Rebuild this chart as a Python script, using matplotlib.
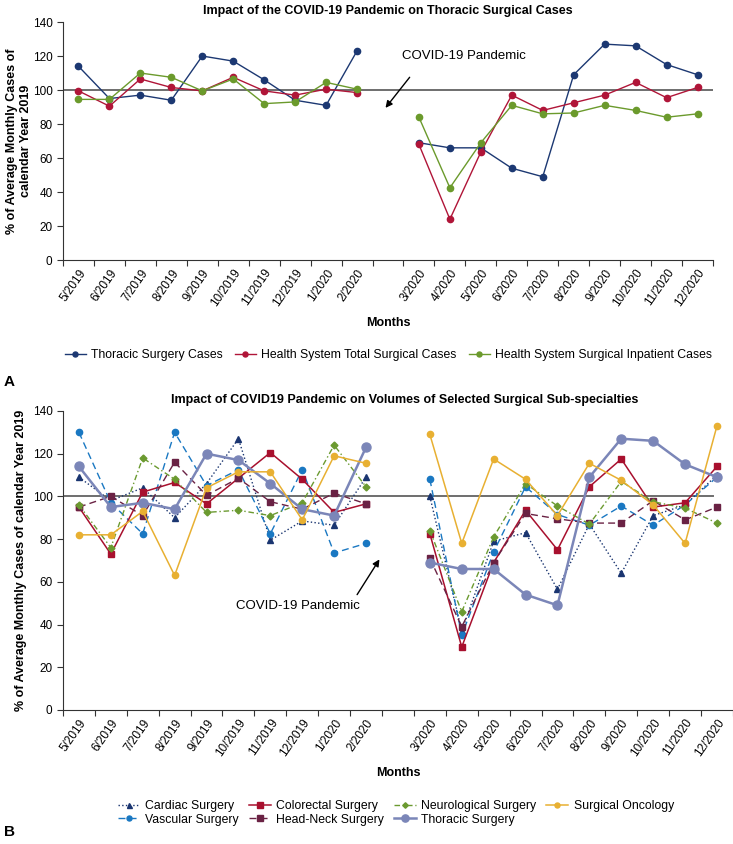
import numpy as np
import matplotlib
matplotlib.use('Agg')
import matplotlib.pyplot as plt

plt.rcParams['font.family'] = ['Liberation Sans Narrow', 'Liberation Sans', 'DejaVu Sans']

months = ['5/2019', '6/2019', '7/2019', '8/2019', '9/2019', '10/2019', '11/2019', '12/2019', '1/2020', '2/2020',
          '3/2020', '4/2020', '5/2020', '6/2020', '7/2020', '8/2020', '9/2020', '10/2020', '11/2020', '12/2020']

# panel A
thoracic_cases = [114, 95, 97, 94, 120, 117, 106, 94, 91, 123,
                  69, 66, 66, 54, 49, 109, 127, 126, 115, 109]
health_total = [99.5, 90.5, 106.5, 101.5, 99.5, 107.5, 99.5, 97, 100.5, 98.5,
                68, 24, 63.5, 97, 88, 92.5, 97, 104.5, 95.5, 101.5]
health_inpatient = [94.5, 94.5, 110, 107.5, 99.5, 106.5, 92, 93, 104.5, 100.5,
                    84, 42.5, 69, 91, 86, 86.5, 91, 88, 84, 86]

# panel B
cardiac = [109, 98, 104, 90, 106, 127, 79.5, 88.5, 86.5, 109,
           100, 37, 79, 83, 56.5, 87, 64, 91, 96, 110]
colorectal = [95, 73, 102, 106.5, 96.5, 108.5, 120.5, 108, 92.5, 96.5,
              82.5, 29.5, 69, 93.5, 75, 104.5, 117.5, 95, 97, 114]
neuro = [96, 76, 118, 108, 92.5, 93.5, 91, 97, 124, 104.5,
         84, 46, 81, 106, 95.5, 87, 107, 97.5, 94.5, 87.5]
oncology = [82, 82, 93, 63, 104, 111.5, 111.5, 89, 119, 115.5,
            129, 78, 117.5, 108, 91, 115.5, 107.5, 96, 78, 133]
vascular = [130, 97, 82.5, 130, 105, 112.5, 82.5, 112.5, 73.5, 78,
            108, 35, 74, 104.5, 91.5, 86.5, 95.5, 86.5, 96, 109]
head_neck = [95, 100, 91, 116, 100.5, 108.5, 97.5, 94, 101.5, 96.5,
             71, 39, 69, 92, 89.5, 87.5, 87.5, 98, 89, 95]
thoracic = thoracic_cases

GAP = 10  # empty slot between 2/2020 and 3/2020


def with_gap(vals):
    return np.insert(np.array(vals, dtype=float), GAP, np.nan)


x = np.arange(len(months) + 1)
labels = months[:GAP] + [''] + months[GAP:]


def style_axis(ax, title, ylabel, title_x, line_end):
    for s in ['top', 'right']:
        ax.spines[s].set_visible(False)
    ax.spines['left'].set_color('#333333')
    ax.spines['bottom'].set_color('#333333')
    ax.set_xlim(-0.5, len(x) - 0.5)
    ax.set_ylim(0, 140)
    ax.set_yticks(np.arange(0, 141, 20))
    ax.set_xticks(np.arange(-0.5, len(x), 1.0))
    ax.set_xticklabels([])
    ax.set_xticks(x, minor=True)
    ax.set_xticklabels(labels, minor=True, rotation=55, ha='right',
                       rotation_mode='anchor', fontsize=8.5)
    ax.tick_params(axis='x', which='minor', length=0, pad=5)
    ax.tick_params(axis='x', which='major', length=4, direction='out', color='#333333')
    ax.tick_params(axis='y', length=4, labelsize=8.5, color='#333333')
    ax.axhline(100, xmax=line_end, color='#6e6e6e', lw=1.4, zorder=1)
    ax.set_title(title, fontsize=9, fontweight='bold', x=title_x, pad=6)
    ax.set_xlabel('Months', fontsize=9, fontweight='bold', labelpad=6)
    ax.set_ylabel(ylabel, fontsize=9, fontweight='bold')


arrow = dict(arrowstyle='-|>', color='black', lw=1.0, shrinkA=0, shrinkB=0, mutation_scale=10)

fig = plt.figure(figsize=(7.33, 8.44), dpi=100)

# ---- panel A ----
ax1 = fig.add_axes([0.0859, 0.6919, 0.8868, 0.282])
ax1.plot(x, with_gap(thoracic_cases), color='#1c3872', marker='o', ms=4.5, lw=1.0,
         label='Thoracic Surgery Cases')
ax1.plot(x, with_gap(health_total), color='#b01538', marker='o', ms=4.5, lw=1.0,
         label='Health System Total Surgical Cases')
ax1.plot(x, with_gap(health_inpatient), color='#6b9a2c', marker='o', ms=4.5, lw=1.0,
         label='Health System Surgical Inpatient Cases')
style_axis(ax1, 'Impact of the COVID-19 Pandemic on Thoracic Surgical Cases',
           '% of Average Monthly Cases of\ncalendar Year 2019', 0.5, 1.0)
ax1.yaxis.set_label_coords(-0.048, 0.5)
ax1.text(10.45, 120, 'COVID-19 Pandemic', fontsize=9.5, va='center', ha='left')
ax1.annotate('', xy=(9.92, 89.5), xytext=(10.7, 107.5), arrowprops=arrow)
ax1.legend(loc='center', bbox_to_anchor=(0.53, 0.579), bbox_transform=fig.transFigure,
           ncol=3, frameon=False, fontsize=8.8, handlelength=1.7, handletextpad=0.45,
           columnspacing=1.0, markerscale=0.8)
fig.text(0.005, 0.547, 'A', fontsize=11, fontweight='bold', va='center')

# ---- panel B ----
ax2 = fig.add_axes([0.0859, 0.1588, 0.914, 0.3543])
series = [
    (cardiac, 'Cardiac Surgery', '#1a3570', '^', ':', 4.5, 1.0),
    (vascular, 'Vascular Surgery', '#1a78c2', 'o', (0, (5, 3)), 4.5, 1.0),
    (colorectal, 'Colorectal Surgery', '#a8102e', 's', '-', 5.0, 1.1),
    (head_neck, 'Head-Neck Surgery', '#6a2244', 's', (0, (5, 3)), 5.0, 1.0),
    (neuro, 'Neurological Surgery', '#6b9a30', 'D', (0, (4, 2, 1, 2)), 3.5, 1.0),
    (thoracic, 'Thoracic Surgery', '#7b86b8', 'o', '-', 6.5, 1.8),
    (oncology, 'Surgical Oncology', '#e8b032', 'o', '-', 4.5, 1.1),
]
for vals, name, col, mk, ls, ms, lw in series:
    ax2.plot(x, with_gap(vals), color=col, marker=mk, ls=ls, ms=ms, lw=lw, label=name)
style_axis(ax2, 'Impact of COVID19 Pandemic on Volumes of Selected Surgical Sub-specialties',
           '% of Average Monthly Cases of calendar Year 2019', 0.51, 0.97)
ax2.text(6.85, 48.5, 'COVID-19 Pandemic', fontsize=9.5, va='center', ha='center')
ax2.annotate('', xy=(9.42, 70.5), xytext=(8.72, 54), arrowprops=arrow)
ax2.legend(loc='center', bbox_to_anchor=(0.54, 0.037), bbox_transform=fig.transFigure,
           ncol=4, frameon=False, fontsize=8.8, handlelength=1.8, handletextpad=0.45,
           columnspacing=0.8, labelspacing=0.15, markerscale=0.8)
fig.text(0.005, 0.014, 'B', fontsize=11, fontweight='bold', va='center')

fig.savefig('out.png', dpi=100)
